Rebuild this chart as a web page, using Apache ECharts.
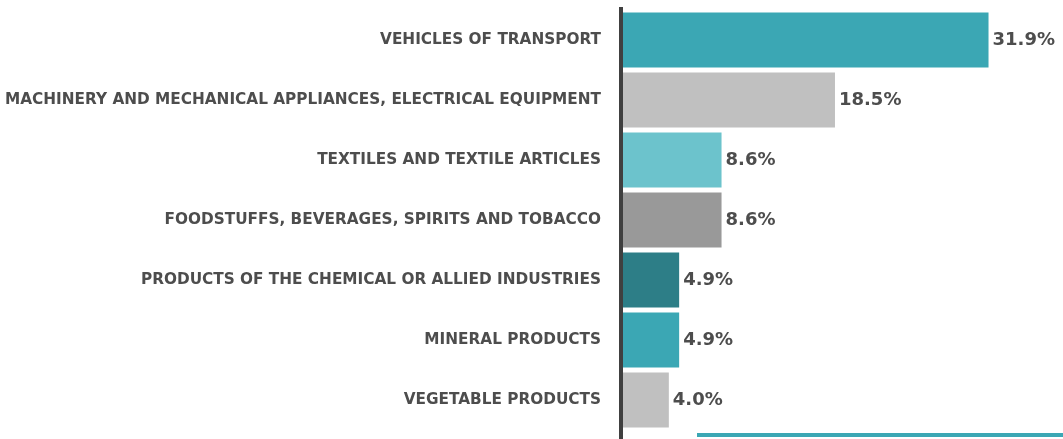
<!DOCTYPE html>
<html>
<head>
<meta charset="utf-8">
<style>
    html, body { margin: 0; padding: 0; background: #ffffff; }
    #chart { width: 1063px; height: 439px; }
</style>
<script src="https://cdn.jsdelivr.net/npm/echarts@6/dist/echarts.min.js"></script>
</head>
<body>
<div id="chart"></div>
<script>
const categories = [
    'VEHICLES OF TRANSPORT',
    'MACHINERY AND MECHANICAL APPLIANCES, ELECTRICAL EQUIPMENT',
    'TEXTILES AND TEXTILE ARTICLES',
    'FOODSTUFFS, BEVERAGES, SPIRITS AND TOBACCO',
    'PRODUCTS OF THE CHEMICAL OR ALLIED INDUSTRIES',
    'MINERAL PRODUCTS',
    'VEGETABLE PRODUCTS'
];
const shares = [31.9, 18.5, 8.6, 8.6, 4.9, 4.9, 4.0];
const barColors = ['#3ba7b4', '#c0c0c0', '#6cc3cc', '#999999', '#2d7e87', '#3ba7b4', '#c0c0c0'];

const chart = echarts.init(document.getElementById('chart'));

const option = {
    animation: false,
    grid: {
        left: 623,
        right: 0,
        top: 10,
        bottom: 9
    },
    xAxis: {
        type: 'value',
        min: 0,
        max: 38.4,
        show: false
    },
    yAxis: {
        type: 'category',
        inverse: true,
        data: categories,
        axisLine: { show: false },
        axisTick: { show: false },
        axisLabel: {
            margin: 22,
            padding: [3, 0, 0, 0],
            color: '#4d4d4d',
            fontFamily: 'DejaVu Sans',
            fontWeight: 'bold',
            fontSize: 15.3
        }
    },
    series: [{
        type: 'bar',
        barCategoryGap: '8%',
        data: shares.map((v, i) => ({ value: v, itemStyle: { color: barColors[i] } })),
        label: {
            show: true,
            position: 'right',
            distance: 4,
            color: '#4d4d4d',
            fontFamily: 'DejaVu Sans',
            fontWeight: 'bold',
            fontSize: 18,
            formatter: p => p.value.toFixed(1) + '%'
        }
    }],
    graphic: [
        {
            type: 'rect',
            shape: { x: 619, y: 7, width: 4, height: 432 },
            style: { fill: '#404040' }
        },
        {
            type: 'rect',
            shape: { x: 697, y: 433, width: 366, height: 4 },
            style: { fill: '#3ba7b4' }
        }
    ]
};

chart.setOption(option);
</script>
</body>
</html>
